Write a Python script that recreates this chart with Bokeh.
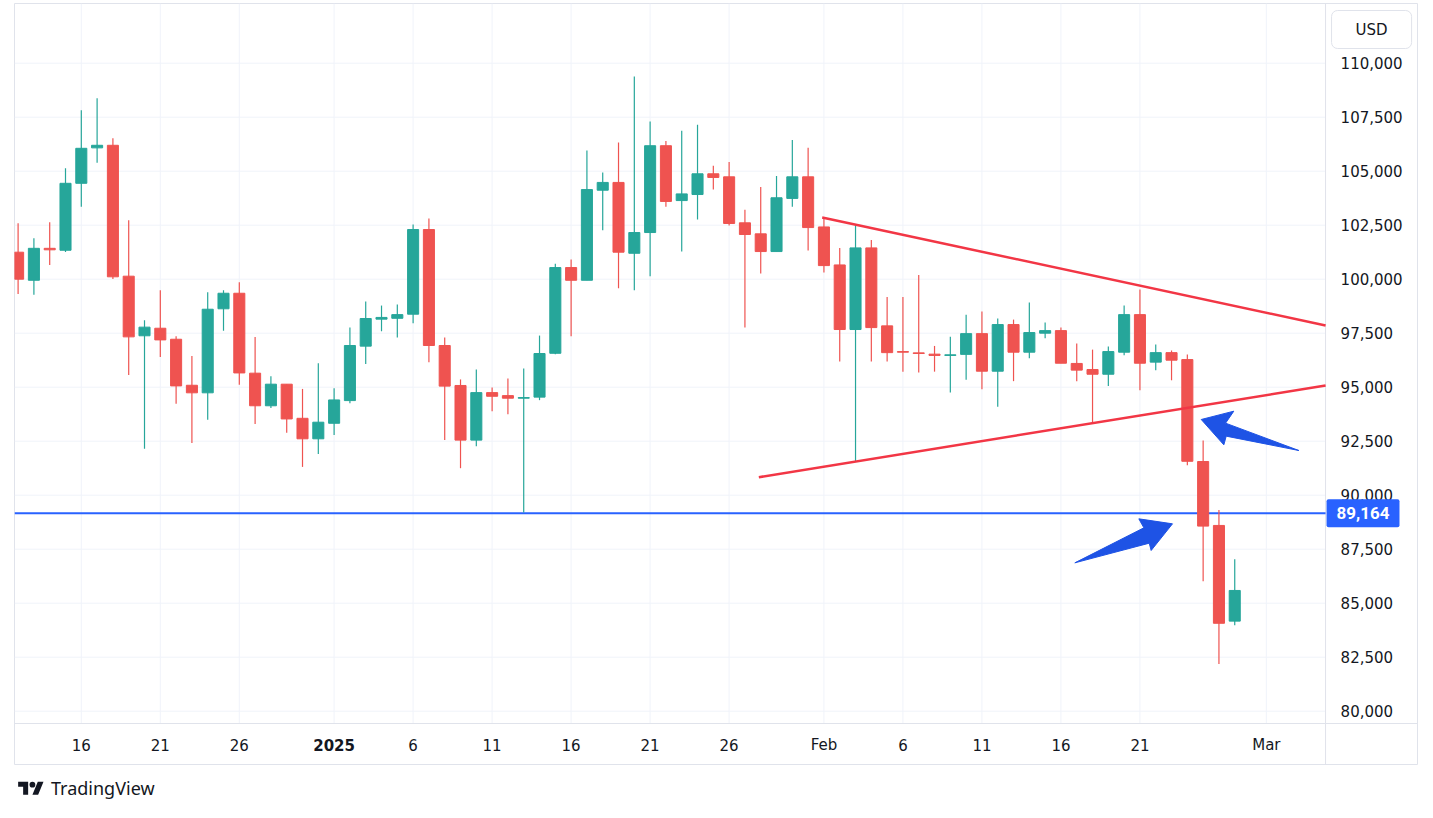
import pandas as pd
from bokeh.plotting import figure
from bokeh.models import Label, ColumnDataSource, Div
from bokeh.layouts import column
from bokeh.core.properties import value
from bokeh.embed import file_html
from bokeh.resources import INLINE

# ---------------- data ----------------
start_date = "2024-12-12"
end_date = "2025-02-27"

opens = [101250, 99950, 101430, 101340, 104440, 106080, 106200, 100140, 97380, 97730,
         97220, 95090, 94740, 98630, 99350, 95650, 94140, 95140, 93560, 92610,
         93330, 94380, 96900, 98150, 98190, 98380, 102300, 96930, 95080, 92550,
         94750, 94610, 94490, 94540, 96570, 100540, 99950, 104120, 104480, 101200,
         102160, 106180, 103640, 103920, 104880, 104740, 102610, 102100, 101280, 103740,
         104740, 102420, 100660, 97670, 101450, 97840, 96650, 96590, 96530, 96470,
         96520, 97480, 95740, 97900, 96620, 97500, 97620, 96100, 95820, 95600,
         96620, 98360, 96160, 96600, 96280, 91560, 88600, 84170]
highs = [102590, 101900, 102640, 105140, 107820, 108380, 106530, 102730, 98100, 99490,
         97360, 96440, 99400, 99490, 99860, 97320, 95510, 95140, 94920, 96110,
         94950, 97760, 98970, 98780, 98830, 102530, 102810, 97300, 95360, 95820,
         94990, 95400, 95860, 97390, 100720, 100910, 105960, 104940, 106330, 109380,
         107300, 106400, 106870, 107150, 105250, 105430, 103210, 104270, 104780, 106450,
         106080, 102810, 101450, 102550, 101820, 99180, 99180, 100200, 96910, 97330,
         98350, 98500, 98180, 98130, 98920, 97990, 97760, 97020, 96740, 96880,
         98780, 99520, 96980, 96700, 96510, 92530, 89310, 87040]
lows = [99320, 99280, 100660, 101260, 103350, 105390, 100010, 95570, 92150, 96400,
        94230, 92420, 93490, 97610, 95110, 93300, 94040, 92890, 91310, 91910,
        92790, 94260, 96070, 97590, 97300, 97960, 96160, 92550, 91250, 92270,
        93890, 93750, 89200, 94400, 96530, 97360, 99950, 102270, 99580, 99490,
        100140, 103360, 101280, 102760, 104150, 102490, 97760, 100260, 101280, 103360,
        101330, 100310, 96190, 91550, 96190, 96190, 95720, 95680, 95720, 94750,
        95350, 94910, 94100, 95280, 96340, 97270, 96110, 95280, 93380, 95050,
        96480, 94860, 95790, 95320, 91390, 86020, 82180, 83980]
closes = [100000, 101430, 101360, 104440, 106060, 106200, 100110, 97330, 97780, 97190,
          95060, 94740, 98610, 99350, 95660, 94140, 95140, 93530, 92610, 93380,
          94410, 96930, 98180, 98230, 98360, 102300, 96930, 95050, 92550, 94750,
          94580, 94490, 94520, 96560, 100540, 99950, 104150, 104480, 101250, 102160,
          106180, 103600, 103950, 104880, 104710, 102580, 102070, 101280, 103770, 104740,
          102390, 100630, 97670, 101450, 97760, 96600, 96620, 96560, 96470, 96500,
          97480, 95740, 97900, 96620, 97530, 97620, 96110, 95790, 95600, 96650,
          98360, 96110, 96600, 96250, 91570, 88570, 84070, 85590]

tick_dates = ["2024-12-16", "2024-12-21", "2024-12-26", "2025-01-01", "2025-01-06",
              "2025-01-11", "2025-01-16", "2025-01-21", "2025-01-26", "2025-02-01",
              "2025-02-06", "2025-02-11", "2025-02-16", "2025-02-21", "2025-03-01"]
tick_labels = ["16", "21", "26", "2025", "6", "11", "16", "21", "26", "Feb",
               "6", "11", "16", "21", "Mar"]
year_label = "2025"

price_ticks = list(range(80000, 110001, 2500))
level_price = 89164
level_text = "89,164"
currency = "USD"

# drawings (x in days since start, y in USD)
upper_trend_x = [50.89, 82.75]
upper_trend_y = [102856, 97856]
lower_trend_x = [46.88, 82.75]
lower_trend_y = [90833, 95079]
arrow1_x = [74.88, 76.94, 76.42, 81.06, 76.46, 76.31]
arrow1_y = [93505, 93890, 93335, 92069, 92733, 92332]
arrow2_x = [73.06, 71.71, 71.59, 66.88, 71.25, 70.93]
arrow2_y = [88675, 87440, 87779, 86869, 88489, 88906]

# ---------------- layout of the panes (data units) ----------------
X_LEFT, X_SEP, X_RIGHT = -0.228, 82.747, 88.63       # chart | price scale
Y_BOTTOM, Y_SEP, Y_TOP = 77486, 79431, 112764        # time scale | chart
PRICE_LABEL_X = 83.70
TIME_LABEL_Y = 78412
TAG_X = 82.81
CURRENCY_X, CURRENCY_Y = 85.66, 111560

UP = "#26a69a"
DOWN = "#ef5350"
FONT = "DejaVu Sans"
TXT = "#131722"
GRID = "#f0f3fa"
SEPC = "#e0e3eb"

t0 = pd.Timestamp(start_date)
dates = pd.date_range(start_date, end_date)
days = [(d - t0).days for d in dates]
tick_x = [(pd.Timestamp(d) - t0).days for d in tick_dates]

src = ColumnDataSource(dict(
    x=days,
    open=opens, high=highs, low=lows, close=closes,
    top=[max(o, c) for o, c in zip(opens, closes)],
    bottom=[min(o, c) for o, c in zip(opens, closes)],
    color=[UP if c >= o else DOWN for o, c in zip(opens, closes)],
))

p = figure(frame_width=1404, frame_height=762,
           x_range=(X_LEFT, X_RIGHT), y_range=(Y_BOTTOM, Y_TOP),
           x_axis_location=None, y_axis_location=None,
           output_backend="svg", toolbar_location=None,
           min_border=0)
p.margin = (3, 0, 0, 14)
p.grid.visible = False
p.outline_line_color = SEPC
p.background_fill_color = "white"
p.border_fill_color = "white"

# grid lines of the chart pane
p.segment(x0=X_LEFT, x1=X_SEP, y0=price_ticks, y1=price_ticks, line_color=GRID, line_width=1)
p.segment(x0=tick_x, x1=tick_x, y0=Y_SEP, y1=Y_TOP, line_color=GRID, line_width=1)

# pane separators
p.segment(x0=[X_SEP, X_LEFT], x1=[X_SEP, X_RIGHT], y0=[Y_BOTTOM, Y_SEP], y1=[Y_TOP, Y_SEP],
          line_color=SEPC, line_width=1)

# price level line
p.line([X_LEFT, X_SEP], [level_price, level_price], line_color="#2962ff", line_width=2)

# candles
p.segment(x0="x", y0="low", x1="x", y1="high", color="color", line_width=1.2, source=src)
p.vbar(x="x", top="top", bottom="bottom", width=0.7, fill_color="color", line_color="color",
       line_width=1, source=src)

# trend lines
p.line(upper_trend_x, upper_trend_y, line_color="#f23645", line_width=2.5)
p.line(lower_trend_x, lower_trend_y, line_color="#f23645", line_width=2.5)

# arrows
p.patches(xs=[arrow1_x, arrow2_x], ys=[arrow1_y, arrow2_y],
          fill_color="#1e53e5", line_color="#1e53e5", line_width=1)

# price scale labels
p.text(x=PRICE_LABEL_X, y=price_ticks, text=[f"{v:,}" for v in price_ticks],
       text_font=value(FONT), text_font_size=value("15px"), text_color=TXT,
       text_align="left", text_baseline="middle")

# time scale labels
normal = [(tx, lab) for tx, lab in zip(tick_x, tick_labels) if lab != year_label]
bold = [(tx, lab) for tx, lab in zip(tick_x, tick_labels) if lab == year_label]
p.text(x=[a for a, _ in normal], y=TIME_LABEL_Y, text=[b for _, b in normal],
       text_font=value(FONT), text_font_size=value("15px"), text_color=TXT,
       text_align="center", text_baseline="middle")
p.text(x=[a for a, _ in bold], y=TIME_LABEL_Y, text=[b for _, b in bold],
       text_font=value(FONT), text_font_size=value("15px"), text_font_style="bold",
       text_color=TXT, text_align="center", text_baseline="middle")

# price-level tag on the price scale
p.add_layout(Label(x=TAG_X, y=level_price, text=level_text,
                   text_font="Roboto", text_font_size="17px", text_font_style="bold",
                   text_color="white", text_align="left", text_baseline="middle",
                   background_fill_color="#2962ff", padding=(10, 8), border_radius=2))

# currency box
p.add_layout(Label(x=CURRENCY_X, y=CURRENCY_Y, text=currency,
                   text_font=FONT, text_font_size="15px", text_color=TXT,
                   text_align="center", text_baseline="middle",
                   background_fill_color="white", border_line_color=SEPC,
                   padding=(24, 10), border_radius=6))

logo_svg = ('<svg width="26" height="20" viewBox="0 0 36 28" xmlns="http://www.w3.org/2000/svg">'
            '<path fill="#131722" d="M14 22H7V11H0V4h14v18zM28 22h-8l7.5-18h8L28 22z"/>'
            '<circle fill="#131722" cx="20" cy="8" r="4"/></svg>')
div = Div(text=('<div style="display:flex;align-items:center;gap:7px;'
                'font-family:\'Noto Sans\';font-size:18px;color:#131722">'
                + logo_svg + '<span>TradingView</span></div>'),
          width=220, height=30, margin=(11, 0, 0, 18))

layout = column(p, div)
open("out.html", "w").write(file_html(layout, INLINE))
